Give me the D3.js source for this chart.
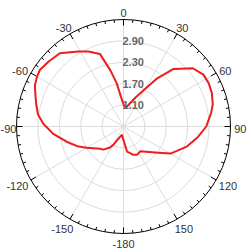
<!DOCTYPE html>
<html>
<script src="https://d3js.org/d3.v7.min.js"></script>
<style>
	body { margin: 0; background: #fff; }
	text { font-family: "Liberation Sans", Arial, sans-serif; }
</style>
<body>
	<svg id="chart"></svg>
</body>
<script type="text/javascript">

	// chart data
	let angleLabels = [0, 30, 60, 90, 120, 150, -180, -150, -120, -90, -60, -30]
	let ringValues = [1.10, 1.70, 2.30, 2.90]
	let radialDomain = [0.5, 3.5]

	let curveAngles = [-169, -157, -151, -147, -139, -134, -120, -113, -105, -96, -88, -82, -76, -70, -65, -60, -56, -49, -41, -31, -25, -18, -13, -9, -5,
		0, 5, 13, 22, 30, 35, 41, 50, 57, 63, 69, 76, 81, 90, 98, 108, 120, 127, 138, 146, 154, 161, 166, 172]
	let curveValues = [0.74, 0.88, 1.09, 1.20, 1.36, 1.40, 1.69, 1.91, 2.15, 2.48, 2.75, 2.92, 3.02, 3.13, 3.24, 3.30, 3.33, 3.28, 3.22, 2.95, 2.82, 2.64, 2.10, 1.73, 1.34,
		1.12, 1.02, 1.12, 1.36, 1.72, 2.15, 2.64, 3.04, 3.17, 3.18, 3.15, 3.08, 2.99, 2.82, 2.61, 2.35, 2.02, 1.72, 1.45, 1.34, 1.38, 1.34, 1.27, 1.21]

	// sizes
	let width = 247
	let height = 249
	let cx = 123.5
	let cy = 126.5
	let outerR = 107
	let labelGap = 4.5

	let chart = d3.select("#chart")
		.attr("width", width)
		.attr("height", height)

	let g = chart.append("g")
		.attr("transform", "translate(" + cx + "," + cy + ")")

	let rScale = d3.scaleLinear()
		.domain(radialDomain)
		.range([0, outerR])

	let rad = function(a){ return a * Math.PI / 180 }

	// grid rings
	g.selectAll("circle.ring")
		.data(ringValues)
		.enter().append("circle")
		.classed("ring", true)
		.attr("r", function(d){ return rScale(d) })
		.style("fill", "none")
		.style("stroke", "#dcdcdc")
		.style("stroke-width", 1)

	// spokes every 30 degrees
	g.selectAll("line.spoke")
		.data(d3.range(0, 360, 30))
		.enter().append("line")
		.classed("spoke", true)
		.attr("x1", 0).attr("y1", 0)
		.attr("x2", function(d){ return outerR * Math.sin(rad(d)) })
		.attr("y2", function(d){ return -outerR * Math.cos(rad(d)) })
		.style("stroke", "#dcdcdc")
		.style("stroke-width", 1)

	// outer axis circle
	g.append("circle")
		.attr("r", rScale(radialDomain[1]))
		.style("fill", "none")
		.style("stroke", "#000")
		.style("stroke-width", 1)

	// ticks, pointing inward
	g.selectAll("line.tick")
		.data(d3.range(0, 360, 5))
		.enter().append("line")
		.classed("tick", true)
		.attr("x1", function(d){ return outerR * Math.sin(rad(d)) })
		.attr("y1", function(d){ return -outerR * Math.cos(rad(d)) })
		.attr("x2", function(d){ let l = d % 30 == 0 ? 6 : 3; return (outerR - l) * Math.sin(rad(d)) })
		.attr("y2", function(d){ let l = d % 30 == 0 ? 6 : 3; return -(outerR - l) * Math.cos(rad(d)) })
		.style("stroke", "#000")
		.style("stroke-width", 1)

	// the red curve
	let points = curveAngles.map(function(a, i){ return { a: a, v: curveValues[i] } })

	let lineGenerator = d3.lineRadial()
		.angle(function(d){ return rad(d.a) })
		.radius(function(d){ return rScale(d.v) })
		.curve(d3.curveLinearClosed)

	g.append("path")
		.attr("d", lineGenerator(points))
		.style("fill", "none")
		.style("stroke", "#ee1c1c")
		.style("stroke-width", 2)
		.style("stroke-linejoin", "round")

	// radial labels
	g.selectAll("text.rlabel")
		.data(ringValues)
		.enter().append("text")
		.classed("rlabel", true)
		.attr("x", -1)
		.attr("y", function(d){ return -rScale(d) })
		.attr("dominant-baseline", "central")
		.style("font-size", "11px")
		.style("font-weight", "bold")
		.style("fill", "#666")
		.text(function(d){ return d.toFixed(2) })

	// angle labels, pushed out by half their box so they sit clear of the circle
	let alabels = g.selectAll("text.alabel")
		.data(angleLabels)
		.enter().append("text")
		.classed("alabel", true)
		.attr("text-anchor", "middle")
		.attr("dominant-baseline", "central")
		.style("font-size", "11px")
		.style("fill", "#333")
		.text(function(d){ return d })

	alabels.each(function(d){
		let w = this.getComputedTextLength()
		let s = Math.sin(rad(d))
		let c = Math.cos(rad(d))
		let rr = outerR + labelGap
		let x = s * rr + s * w / 2
		// keep the text inside the picture
		x = Math.max(x, -cx + w / 2 + 0.5)
		x = Math.min(x, width - cx - w / 2 - 0.5)
		d3.select(this)
			.attr("x", x)
			.attr("y", -c * rr - c * 4 + 2)
	})

</script>
</html>
